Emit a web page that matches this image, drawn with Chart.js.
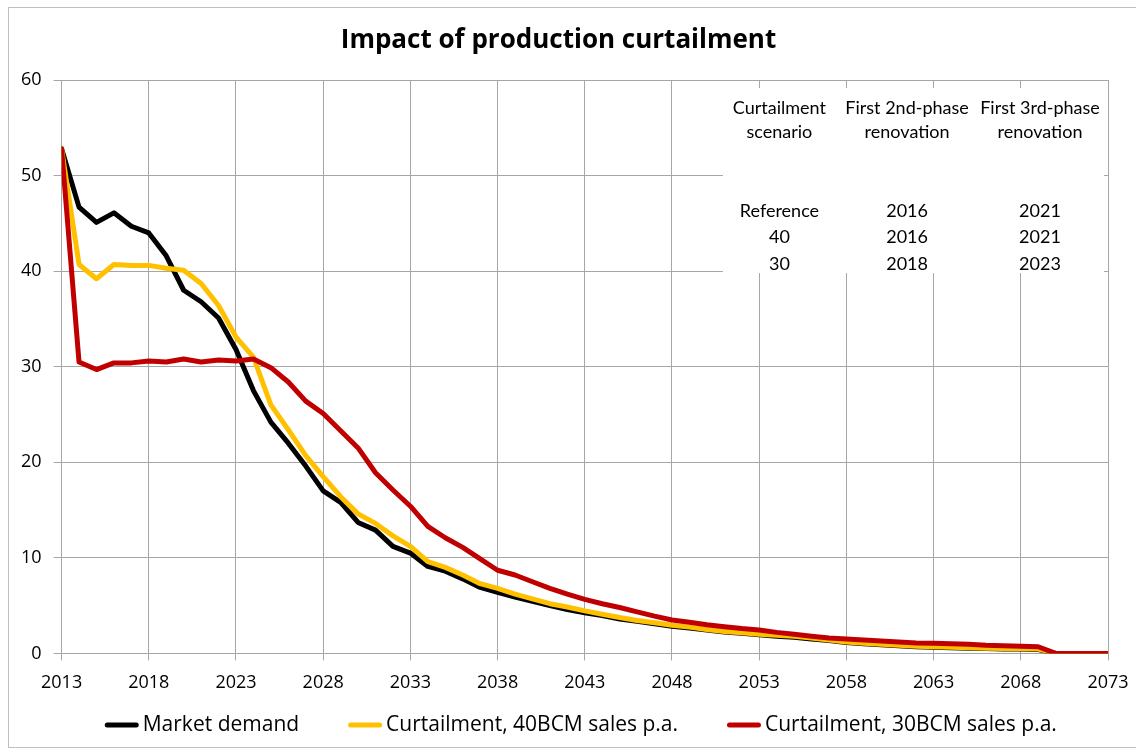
<!DOCTYPE html>
<html>
<head>
<meta charset="utf-8">
<title>Impact of production curtailment</title>
<script src="https://cdn.jsdelivr.net/npm/chart.js@4.4.1/dist/chart.umd.min.js"></script>
<style>
    html, body { margin: 0; padding: 0; background: #ffffff; overflow: hidden; }
    #wrap {
        position: absolute;
        left: 8px;
        top: 7px;
        width: 1140px;
        height: 741px;
        border: 1px solid #bfbfbf;
        box-sizing: border-box;
    }
    #wrap canvas { display: block; }
</style>
</head>
<body>
<div id="wrap"><canvas id="chart" width="1138" height="739"></canvas></div>
<script>
// Années 2013 à 2073
const years = [];
for (let y = 2013; y <= 2073; y++) years.push(y);

// Séries (BCM)
const marketDemand = [
    52.8, 46.7, 45.1, 46.1, 44.7, 44.0, 41.6, 38.0, 36.8, 35.1,
    31.8, 27.5, 24.2, 22.0, 19.6, 17.0, 15.8, 13.7, 12.9, 11.2,
    10.5, 9.1, 8.6, 7.8, 6.9, 6.4, 5.9, 5.45, 5.0, 4.6,
    4.25, 3.95, 3.6, 3.35, 3.1, 2.85, 2.65, 2.45, 2.25, 2.1,
    1.95, 1.8, 1.7, 1.5, 1.35, 1.15, 1.0, 0.9, 0.8, 0.7,
    0.65, 0.6, 0.55, 0.5, 0.45, 0.45, 0.4, 0, 0, 0, 0
];
const curtail40 = [
    52.8, 40.7, 39.2, 40.7, 40.6, 40.6, 40.3, 40.1, 38.7, 36.4,
    33.1, 31.0, 26.0, 23.4, 20.7, 18.5, 16.4, 14.6, 13.6, 12.3,
    11.2, 9.6, 9.0, 8.2, 7.3, 6.8, 6.2, 5.7, 5.2, 4.85,
    4.45, 4.1, 3.75, 3.45, 3.2, 2.95, 2.75, 2.5, 2.3, 2.15,
    2.0, 1.9, 1.8, 1.6, 1.4, 1.2, 1.05, 0.95, 0.85, 0.75,
    0.7, 0.65, 0.6, 0.55, 0.5, 0.5, 0.45, 0, 0, 0, 0
];
const curtail30 = [
    52.8, 30.5, 29.7, 30.4, 30.4, 30.6, 30.5, 30.8, 30.5, 30.7,
    30.6, 30.8, 29.9, 28.4, 26.4, 25.1, 23.3, 21.5, 18.9, 17.1,
    15.4, 13.3, 12.1, 11.1, 9.9, 8.7, 8.2, 7.5, 6.8, 6.2,
    5.65, 5.2, 4.8, 4.35, 3.9, 3.5, 3.25, 3.0, 2.8, 2.6,
    2.45, 2.2, 2.0, 1.8, 1.6, 1.5, 1.4, 1.3, 1.2, 1.1,
    1.05, 1.0, 0.95, 0.85, 0.8, 0.75, 0.7, 0, 0, 0, 0
];

// Tableau des scénarios (encadré en haut à droite)
const tableHeader1 = ['Curtailment', 'First 2nd-phase', 'First 3rd-phase'];
const tableHeader2 = ['scenario', 'renovation', 'renovation'];
const tableRows = [
    ['Reference', '2016', '2021'],
    ['40', '2016', '2021'],
    ['30', '2018', '2023']
];

const FONT = '"Open Sans", Lato, sans-serif';
const TABLE_FONT = 'Lato, "Open Sans", sans-serif';

function toPoints(values) {
    return years.map((yr, i) => ({ x: yr, y: values[i] }));
}

function lineDataset(label, values, color, order) {
    return {
        label: label,
        data: toPoints(values),
        borderColor: color,
        backgroundColor: color,
        borderWidth: 5,
        pointRadius: 0,
        tension: 0,
        borderJoinStyle: 'round',
        borderCapStyle: 'round',
        order: order
    };
}

// Encadré blanc avec le tableau
const tablePlugin = {
    id: 'scenarioTable',
    beforeDatasetsDraw(chart) {
        const ctx = chart.ctx;
        const ca = chart.chartArea;
        const w = ca.right - ca.left;
        const yScale = chart.scales.y;
        const left = ca.left + w * 0.632;
        const right = ca.right - 4;
        const top = ca.top + 8;
        const bottom = yScale.getPixelForValue(40) + 2;
        const cols = [ca.left + w * 0.686, ca.left + w * 0.808, ca.left + w * 0.935];

        ctx.save();
        ctx.fillStyle = '#ffffff';
        ctx.fillRect(left, top, right - left, bottom - top);
        ctx.fillStyle = '#000000';
        ctx.font = '18px ' + TABLE_FONT;
        ctx.textAlign = 'center';
        ctx.textBaseline = 'middle';
        cols.forEach((cx, i) => {
            ctx.fillText(tableHeader1[i], cx, ca.top + 28);
            ctx.fillText(tableHeader2[i], cx, ca.top + 52);
        });
        tableRows.forEach((row, r) => {
            row.forEach((txt, i) => {
                ctx.fillText(txt, cols[i], ca.top + 131 + r * 26.6);
            });
        });
        ctx.restore();
    }
};

// Légende dessinée à la main (style Excel : trait court + texte)
const legendPlugin = {
    id: 'excelLegend',
    afterDraw(chart) {
        const ctx = chart.ctx;
        const ca = chart.chartArea;
        const sets = chart.data.datasets;
        const lineLen = 34, gap = 4, spacing = 49;
        const y = chart.height - 22;

        ctx.save();
        ctx.font = '21px ' + FONT;
        ctx.textBaseline = 'middle';
        ctx.textAlign = 'left';
        const widths = sets.map(ds => lineLen + gap + ctx.measureText(ds.label).width);
        const total = widths.reduce((a, b) => a + b, 0) + spacing * (sets.length - 1);
        let x = (ca.left + ca.right) / 2 - 4 - total / 2;
        sets.forEach((ds, i) => {
            ctx.strokeStyle = ds.borderColor;
            ctx.lineWidth = 5;
            ctx.lineCap = 'round';
            ctx.beginPath();
            ctx.moveTo(x + 2.5, y);
            ctx.lineTo(x + lineLen - 2.5, y);
            ctx.stroke();
            ctx.fillStyle = '#000000';
            ctx.fillText(ds.label, x + lineLen + gap, y);
            x += widths[i] + spacing;
        });
        ctx.restore();
    }
};

const ctx = document.getElementById('chart').getContext('2d');
const chart = new Chart(ctx, {
    type: 'line',
    data: {
        datasets: [
            lineDataset('Market demand', marketDemand, '#000000', 3),
            lineDataset('Curtailment, 40BCM sales p.a.', curtail40, '#ffc000', 2),
            lineDataset('Curtailment, 30BCM sales p.a.', curtail30, '#c00000', 1)
        ]
    },
    options: {
        responsive: false,
        animation: false,
        layout: {
            padding: { left: 0, right: 39, top: 3, bottom: 41 }
        },
        plugins: {
            title: {
                display: true,
                text: 'Impact of production curtailment',
                color: '#000000',
                font: { family: FONT, size: 26, weight: 'bold' },
                padding: { top: 13.5, bottom: 24.3 }
            },
            legend: { display: false },
            tooltip: { enabled: false }
        },
        scales: {
            x: {
                type: 'linear',
                min: 2013,
                max: 2073,
                ticks: {
                    stepSize: 5,
                    color: '#000000',
                    font: { family: FONT, size: 18 },
                    padding: 12,
                    maxRotation: 0,
                    callback: v => String(v)
                },
                grid: { color: '#a6a6a6', lineWidth: 1, tickLength: 7 },
                border: { color: '#a6a6a6' }
            },
            y: {
                min: 0,
                max: 60,
                ticks: {
                    stepSize: 10,
                    color: '#000000',
                    font: { family: FONT, size: 18 },
                    padding: 12
                },
                grid: { color: '#a6a6a6', lineWidth: 1, tickLength: 8 },
                border: { color: '#a6a6a6' }
            }
        }
    },
    plugins: [tablePlugin, legendPlugin]
});
</script>
</body>
</html>
